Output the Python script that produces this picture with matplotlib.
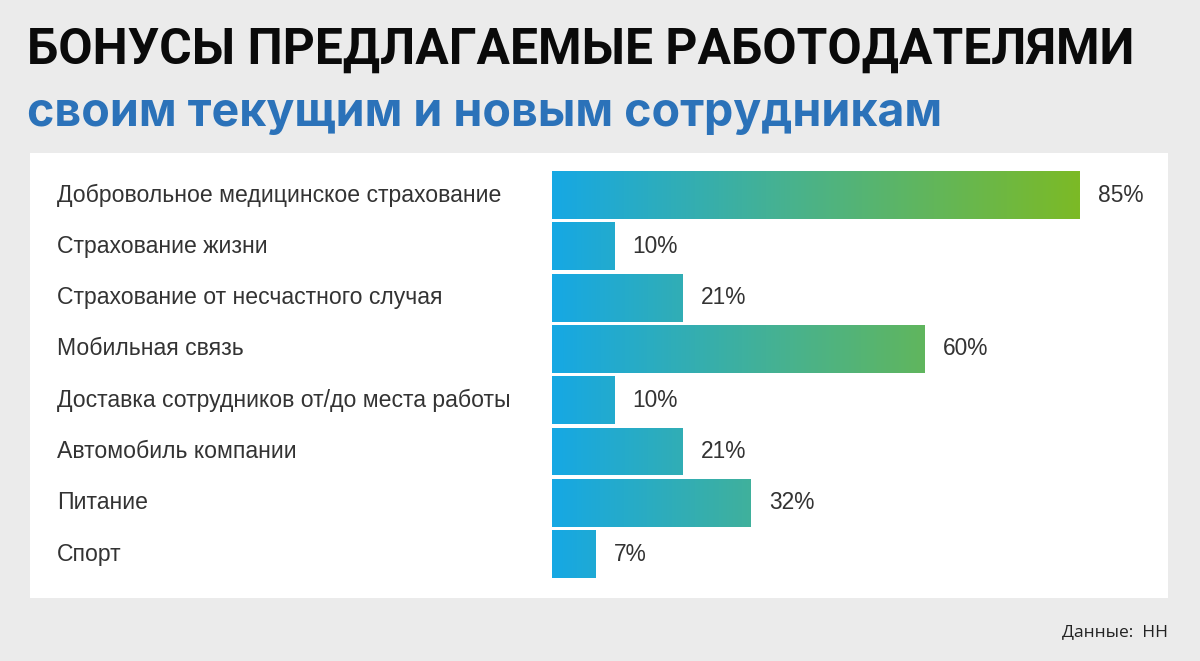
import numpy as np
import matplotlib
matplotlib.use("Agg")
import matplotlib.pyplot as plt
from matplotlib.colors import LinearSegmentedColormap
from matplotlib.patches import Rectangle
from matplotlib.transforms import blended_transform_factory, offset_copy

categories = [
    "Добровольное медицинское страхование",
    "Страхование жизни",
    "Страхование от несчастного случая",
    "Мобильная связь",
    "Доставка сотрудников от/до места работы",
    "Автомобиль компании",
    "Питание",
    "Спорт",
]
values = [85, 10, 21, 60, 10, 21, 32, 7]
value_labels = ["85%", "10%", "21%", "60%", "10%", "21%", "32%", "7%"]

title = "БОНУСЫ ПРЕДЛАГАЕМЫЕ РАБОТОДАТЕЛЯМИ"
subtitle = "своим текущим и новым сотрудникам"
source = "Данные:  НН"

W, H = 1200, 661
fig = plt.figure(figsize=(W / 100, H / 100), dpi=100)
fig.patch.set_facecolor("#ebebeb")

# white panel
panel = Rectangle((30 / W, 1 - 598 / H), 1138 / W, 445 / H,
                  transform=fig.transFigure, facecolor="white",
                  edgecolor="none", zorder=-1)
fig.patches.append(panel)

fig.text(27 / W, 1 - 64 / H, title, fontsize=35.8, fontweight="bold",
         family=["Roboto", "DejaVu Sans"], color="#0a0a0a", va="baseline", ha="left")
fig.text(27 / W, 1 - 126 / H, subtitle, fontsize=33.5, fontweight="bold",
         family=["Inter", "DejaVu Sans"], color="#2b72b9", va="baseline", ha="left")
fig.text(1168 / W, 1 - 636 / H, source, fontsize=12.5,
         family=["Open Sans", "DejaVu Sans"], color="#222222", va="baseline", ha="right")

# axes for bars
slot = 51.3
top = 195 - slot / 2
n = len(categories)
ax = fig.add_axes([552 / W, 1 - (top + n * slot) / H, 621 / W, n * slot / H])
ax.set_xlim(0, 100)
ax.set_ylim(n - 0.5, -0.5)
ax.axis("off")
ax.patch.set_alpha(0)

cmap = LinearSegmentedColormap.from_list(
    "grad", [(0.0, "#16a8e4"), (0.45, "#48b28e"), (1.0, "#7cba26")])
vmax = max(values)
bar_h = 0.935
bars = ax.barh(range(n), values, height=bar_h, color="none", edgecolor="none")
for i, (b, v) in enumerate(zip(bars, values)):
    grad = np.linspace(0, v / vmax, 256).reshape(1, -1)
    im = ax.imshow(grad, cmap=cmap, vmin=0, vmax=1, aspect="auto",
                   extent=(0, v, i + bar_h / 2, i - bar_h / 2), interpolation="bilinear",
                   zorder=2)
    im.set_clip_path(b)

ax.set_xlim(0, 100)
ax.set_ylim(n - 0.5, -0.5)

lab_tr = blended_transform_factory(fig.transFigure, ax.transData)
for i, c in enumerate(categories):
    ax.text(57 / W, i, c, transform=lab_tr, fontsize=16.6,
            family=["Liberation Sans", "DejaVu Sans"], color="#333333",
            va="center", ha="left")

val_tr = offset_copy(ax.transData, fig=fig, x=18, y=0, units="dots")
for i, (v, t) in enumerate(zip(values, value_labels)):
    ax.text(v, i, t, transform=val_tr, fontsize=16.4,
            family=["Liberation Sans", "DejaVu Sans"], color="#333333",
            va="center", ha="left")

fig.savefig("out.png", dpi=100, facecolor=fig.get_facecolor())
